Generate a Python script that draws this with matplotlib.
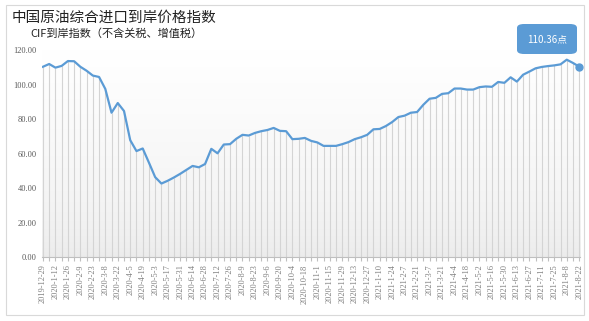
import matplotlib.pyplot as plt
import numpy as np
import pandas as pd
from matplotlib.colors import LinearSegmentedColormap
from matplotlib.patches import FancyBboxPatch, Rectangle

plt.rcParams['font.family'] = ['Noto Sans CJK SC', 'DejaVu Sans']

# weekly CIF index, 2019-12-29 .. 2021-08-22
dates = pd.date_range('2019-12-29', '2021-08-22', freq='7D')
values = [110.3, 111.9, 109.8, 110.8, 113.6, 113.5, 110.3, 108.0, 105.2, 104.4,
          97.5, 83.7, 89.3, 84.7, 67.8, 61.5, 63.0, 54.8, 46.4, 42.7,
          44.3, 46.2, 48.3, 50.6, 52.9, 52.1, 54.0, 62.8, 60.2, 65.3,
          65.5, 68.6, 70.9, 70.5, 72.0, 73.0, 73.7, 74.9, 73.2, 73.0,
          68.4, 68.6, 69.1, 67.4, 66.5, 64.5, 64.5, 64.5, 65.5, 66.7,
          68.4, 69.5, 70.9, 74.1, 74.3, 76.0, 78.3, 81.2, 82.0, 83.7,
          84.1, 88.3, 91.8, 92.3, 94.6, 95.0, 97.7, 97.7, 97.1, 97.1,
          98.5, 98.9, 98.7, 101.5, 101.0, 104.2, 101.7, 105.7, 107.5, 109.4,
          110.2, 110.7, 111.1, 111.7, 114.4, 112.5, 110.36]
labels = ['{}-{}-{}'.format(d.year, d.month, d.day) for d in dates]
yticks = [0, 20, 40, 60, 80, 100, 120]
last_label = '110.36点'

blue = '#5b9bd5'
fig = plt.figure(figsize=(5.89, 3.21), dpi=100)
fig.patches.append(Rectangle((6 / 589, 6 / 321), 578 / 589, 310 / 321, transform=fig.transFigure,
                             fill=False, edgecolor='#d9d9d9', lw=0.8))
ax = fig.add_axes([0.0713, 0.1984, 0.9137, 0.6458])

x = np.arange(len(values))
ax.set_xlim(-0.15, len(values) - 1 + 0.15)
ax.set_ylim(0, 120)

# background: white at the top, light grey at the bottom
grad = np.linspace(0, 1, 256) ** 0.6
grad = grad.reshape(-1, 1)
cmap = LinearSegmentedColormap.from_list('g', ['#ebebeb', '#ffffff'])
ax.imshow(grad, extent=(ax.get_xlim()[0], ax.get_xlim()[1], 0, 120), aspect='auto',
          cmap=cmap, origin='lower', zorder=0)

ax.vlines(x, 0, values, color='#d4d4d4', lw=0.8, zorder=1)
ax.plot(x, values, color=blue, lw=1.6, zorder=3)
ax.plot(x[-1], values[-1], 'o', color=blue, ms=5, zorder=4, clip_on=False)

for s in ['top', 'right', 'left']:
    ax.spines[s].set_visible(False)
ax.spines['bottom'].set_color('#bfbfbf')
ax.spines['bottom'].set_linewidth(0.8)

ax.set_yticks(yticks)
ax.set_yticklabels(['{:.2f}'.format(v) for v in yticks], fontsize=6, color='#595959',
                   family='Liberation Serif')
ax.tick_params(axis='y', length=0, pad=4)
ax.set_xticks(x)
ax.set_xticklabels([l if i % 2 == 0 else '' for i, l in enumerate(labels)], rotation=90,
                   fontsize=6, color='#7f7f7f', family='Liberation Serif')
ax.tick_params(axis='x', length=3, color='#bfbfbf', pad=2)

# annotation box for last value
box = FancyBboxPatch((517 / 589, 1 - 54 / 321), 60 / 589, 30 / 321, transform=fig.transFigure,
                     boxstyle='round,pad=0,rounding_size=0.012', facecolor=blue, edgecolor='none')
fig.patches.append(box)
fig.text(547 / 589, 1 - 39 / 321, last_label, color='white', fontsize=7, ha='center', va='center')

fig.text(12 / 589, 1 - 18 / 321, '中国原油综合进口到岸价格指数', fontsize=10.5, va='center', color='#222222')
fig.text(30 / 589, 1 - 34 / 321, 'CIF到岸指数（不含关税、增值税）', fontsize=8, va='center', color='#222222')

fig.savefig('out.png', dpi=100)
plt.close()
